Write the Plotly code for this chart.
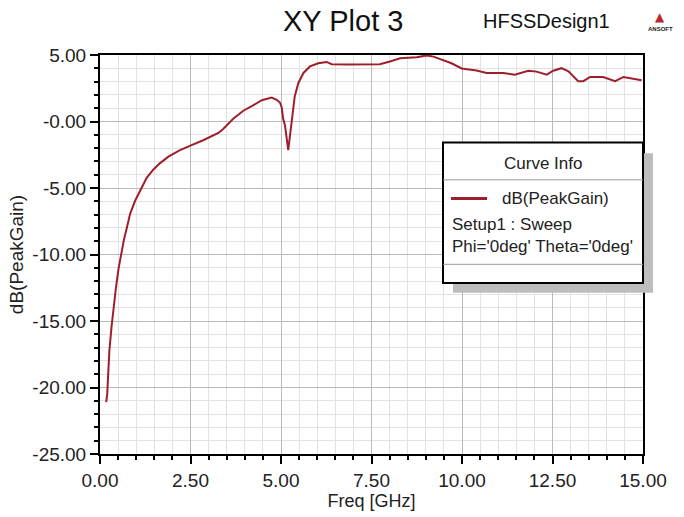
import plotly.graph_objects as go

# ---- data ----
freq_ghz = [0.17, 0.20, 0.23, 0.26, 0.32, 0.37, 0.44, 0.51, 0.57, 0.66, 0.75, 0.83,
            0.97, 1.10, 1.29, 1.47, 1.66, 1.89, 2.21, 2.53, 2.85, 3.27, 3.41, 3.68,
            3.96, 4.24, 4.47, 4.74, 4.88, 4.97, 5.02, 5.06, 5.11, 5.20, 5.24, 5.30,
            5.38, 5.48, 5.62, 5.80, 6.03, 6.26, 6.40, 6.81, 7.73, 8.01, 8.29, 8.75,
            9.02, 9.21, 9.48, 9.71, 9.99, 10.22, 10.40, 10.68, 11.14, 11.46, 11.83,
            12.06, 12.34, 12.52, 12.75, 12.94, 13.21, 13.35, 13.54, 13.90, 14.23,
            14.46, 14.73, 14.96]
peak_gain_db = [-21.1, -20.5, -18.8, -17.2, -15.4, -14.1, -12.5, -11.1, -10.2, -8.9,
                -7.9, -6.95, -5.96, -5.22, -4.24, -3.62, -3.13, -2.64, -2.15, -1.78,
                -1.41, -0.86, -0.54, 0.20, 0.81, 1.23, 1.60, 1.80, 1.63, 1.43, 1.06,
                0.20, -0.30, -2.15, -1.20, 0.30, 1.90, 2.90, 3.65, 4.14, 4.38, 4.48,
                4.31, 4.28, 4.31, 4.51, 4.75, 4.83, 4.97, 4.88, 4.63, 4.38, 3.99, 3.89,
                3.84, 3.65, 3.65, 3.52, 3.82, 3.75, 3.52, 3.82, 4.01, 3.77, 3.03, 3.03,
                3.35, 3.35, 3.03, 3.35, 3.20, 3.10]

x_tickvals = [0, 2.5, 5, 7.5, 10, 12.5, 15]
x_ticktext = ["0.00", "2.50", "5.00", "7.50", "10.00", "12.50", "15.00"]
y_tickvals = [5, 0, -5, -10, -15, -20, -25]
y_ticktext = ["5.00", "-0.00", "-5.00", "-10.00", "-15.00", "-20.00", "-25.00"]

title_text = "XY Plot 3"
design_text = "HFSSDesign1"
x_title = "Freq [GHz]"
y_title = "dB(PeakGain)"
legend_title = "Curve Info"
legend_lines = ["dB(PeakGain)", "Setup1 : Sweep", "Phi='0deg' Theta='0deg'"]

FONT = "Liberation Sans Narrow, Arial Narrow, Liberation Sans, Arial, sans-serif"
CURVE = "#9e1f2c"

fig = go.Figure()
fig.add_trace(go.Scatter(x=freq_ghz, y=peak_gain_db, mode="lines",
                         line=dict(color=CURVE, width=2), showlegend=False,
                         hoverinfo="skip"))

axis_common = dict(
    showline=True, linecolor="black", linewidth=2, mirror=True,
    showgrid=True, gridcolor="#b9b9b9", gridwidth=1,
    ticks="outside", ticklen=8, tickwidth=1.5, tickcolor="black",
    zeroline=False,
    tickfont=dict(family=FONT, size=19, color="#222"),
)

fig.update_xaxes(range=[0, 15], tickvals=x_tickvals, ticktext=x_ticktext,
                 minor=dict(dtick=0.5, showgrid=True, gridcolor="#e2e2e2",
                            ticks="outside", ticklen=4, tickcolor="black"),
                 title=dict(text=x_title, font=dict(family=FONT, size=18, color="#222"),
                            standoff=2),
                 **axis_common)
fig.update_yaxes(range=[-25, 5], tickvals=y_tickvals, ticktext=y_ticktext,
                 minor=dict(dtick=1, showgrid=True, gridcolor="#e2e2e2",
                            ticks="outside", ticklen=4, tickcolor="black"),
                 title=dict(text=y_title, font=dict(family=FONT, size=19, color="#222"),
                            standoff=4),
                 **axis_common)

# ---- legend box ("Curve Info") ----
L = 100.0; R = 643.0; T = 55.0; B = 461.0
def px(x): return (x - L) / (R - L)
def py(y): return (B - y) / (B - T)

shapes = [
    dict(type="rect", xref="paper", yref="paper", x0=px(453), x1=px(653),
         y0=py(297), y1=py(155), fillcolor="#bdbdbd", line=dict(width=0), layer="above"),
    dict(type="rect", xref="paper", yref="paper", x0=px(443), x1=px(643),
         y0=py(287), y1=py(144), fillcolor="white", line=dict(color="black", width=2),
         layer="above"),
    dict(type="line", xref="paper", yref="paper", x0=px(443), x1=px(643),
         y0=py(182), y1=py(182), line=dict(color="#9a9a9a", width=1), layer="above"),
    dict(type="line", xref="paper", yref="paper", x0=px(443), x1=px(643),
         y0=py(268), y1=py(268), line=dict(color="#9a9a9a", width=1), layer="above"),
    dict(type="line", xref="paper", yref="paper", x0=px(451), x1=px(487),
         y0=py(201), y1=py(201), line=dict(color=CURVE, width=3), layer="above"),
]

ann_font = dict(family=FONT, size=17, color="#222")
annotations = [
    dict(text=legend_title, x=px(543), y=py(165), xref="paper", yref="paper",
         showarrow=False, xanchor="center", yanchor="middle", font=ann_font),
    dict(text=legend_lines[0], x=px(500), y=py(201), xref="paper", yref="paper",
         showarrow=False, xanchor="left", yanchor="middle", font=ann_font),
    dict(text=legend_lines[1], x=px(450), y=py(227), xref="paper", yref="paper",
         showarrow=False, xanchor="left", yanchor="middle", font=ann_font),
    dict(text=legend_lines[2], x=px(450), y=py(250), xref="paper", yref="paper",
         showarrow=False, xanchor="left", yanchor="middle", font=ann_font),
    dict(text=title_text, x=343 / 684, y=1 - 20 / 517, xref="paper", yref="paper",
         showarrow=False, xanchor="center", yanchor="middle",
         font=dict(family=FONT, size=29, color="#111")),
    dict(text=design_text, x=546 / 684, y=1 - 20 / 517, xref="paper", yref="paper",
         showarrow=False, xanchor="center", yanchor="middle",
         font=dict(family=FONT, size=20, color="#111")),
    dict(text="<b>▲</b>", x=660 / 684, y=1 - 16 / 517, xref="paper", yref="paper",
         showarrow=False, xanchor="center", yanchor="middle",
         font=dict(family="DejaVu Sans", size=12, color="#b52a2a")),
    dict(text="<b>ANSOFT</b>", x=660 / 684, y=1 - 29 / 517, xref="paper", yref="paper",
         showarrow=False, xanchor="center", yanchor="middle",
         font=dict(family="Liberation Sans", size=6, color="#222")),
]
# paper-coordinate annotations for title: convert to container coordinates
for a in annotations[4:]:
    a["x"] = a["x"]
    a["xref"] = "paper"
for a in annotations[4:]:
    # express in paper coords relative to plot area
    cx = a["x"] * 684
    cy = (1 - a["y"]) * 517
    a["x"] = px(cx)
    a["y"] = py(cy)

fig.update_layout(
    width=684, height=517,
    margin=dict(l=100, r=41, t=55, b=56),
    paper_bgcolor="white", plot_bgcolor="white",
    shapes=shapes, annotations=annotations,
    showlegend=False,
)

fig.write_html("out.html")
